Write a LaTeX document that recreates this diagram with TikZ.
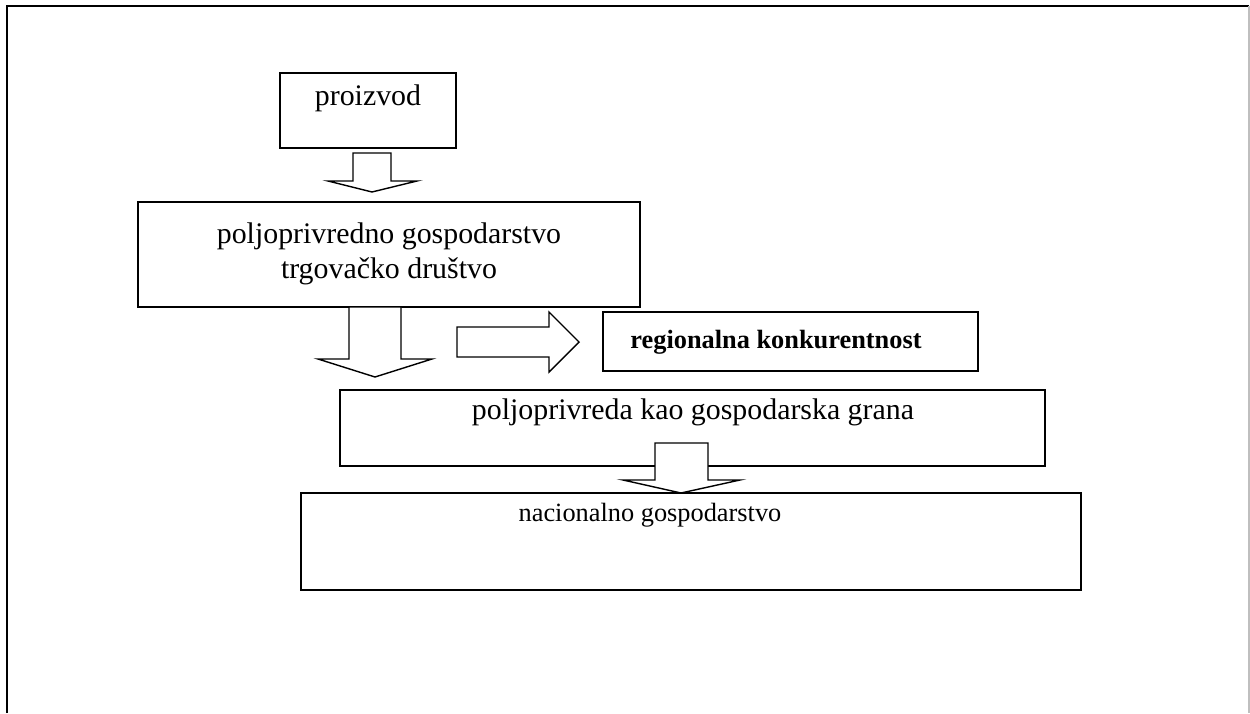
\documentclass[tikz,border=0pt]{standalone}
\usepackage{fontspec}
\setmainfont{Liberation Serif}
\usepackage{tikz}
\usetikzlibrary{positioning}

\tikzset{
  box/.style={draw, line width=0.9pt, fill=white, inner sep=0pt},
  txt/.style={inner sep=0pt, align=center, font=\fontsize{17}{20}\selectfont},
  smalltxt/.style={inner sep=0pt, font=\fontsize{15}{18}\selectfont},
  blockarrow/.style={draw, line width=0.8pt, fill=white, line join=miter}
}

\begin{document}
\begin{tikzpicture}[x=0.02cm, y=-0.02cm]
  \useasboundingbox (0,0) rectangle (1250,713);

  % outer frame (open at the bottom)
  \draw[line width=1.3pt] (7,713) -- (7,6) -- (1249,6);
  \draw[black!25, line width=0.6pt] (1249,6) -- (1249,713);

  % boxes
  \node[box, minimum width=3.52cm, minimum height=1.5cm] (prod) at (368,110.5) {};
  \node[txt] (prodtxt) at (368,98) {proizvod};

  \node[box, minimum width=10.04cm, minimum height=2.1cm] (farm) at (389,254.5) {};
  \node[txt] (farmtxt) at (389,254) {poljoprivredno gospodarstvo\\trgovačko društvo};

  \node[box, minimum width=7.5cm, minimum height=1.18cm] (region) at (790.5,341.5) {};
  \node[smalltxt, font=\fontsize{15}{18}\selectfont\bfseries] (regiontxt) at (776,342) {regionalna konkurentnost};

  \node[box, minimum width=14.1cm, minimum height=1.52cm] (branch) at (692.5,428) {};
  \node[txt] (branchtxt) at (693,412) {poljoprivreda kao gospodarska grana};

  \node[box, minimum width=15.6cm, minimum height=1.94cm] (nation) at (691,541.5) {};
  \node[smalltxt] (nationtxt) at (650,515) {nacionalno gospodarstvo};

  % block arrows
  \draw[blockarrow] (353,153) -- (391,153) -- (391,181) -- (417,181) -- (372,192)
    -- (328,181) -- (353,181) -- cycle;
  \draw[blockarrow] (349,307) -- (401,307) -- (401,359) -- (432,359) -- (375,377)
    -- (318,359) -- (349,359) -- cycle;
  \draw[blockarrow] (457,327) -- (549,327) -- (549,312) -- (579,342) -- (549,372)
    -- (549,357) -- (457,357) -- cycle;
  \draw[blockarrow] (655,443) -- (708,443) -- (708,480) -- (740,480) -- (681,493)
    -- (623,480) -- (655,480) -- cycle;
\end{tikzpicture}
\end{document}
